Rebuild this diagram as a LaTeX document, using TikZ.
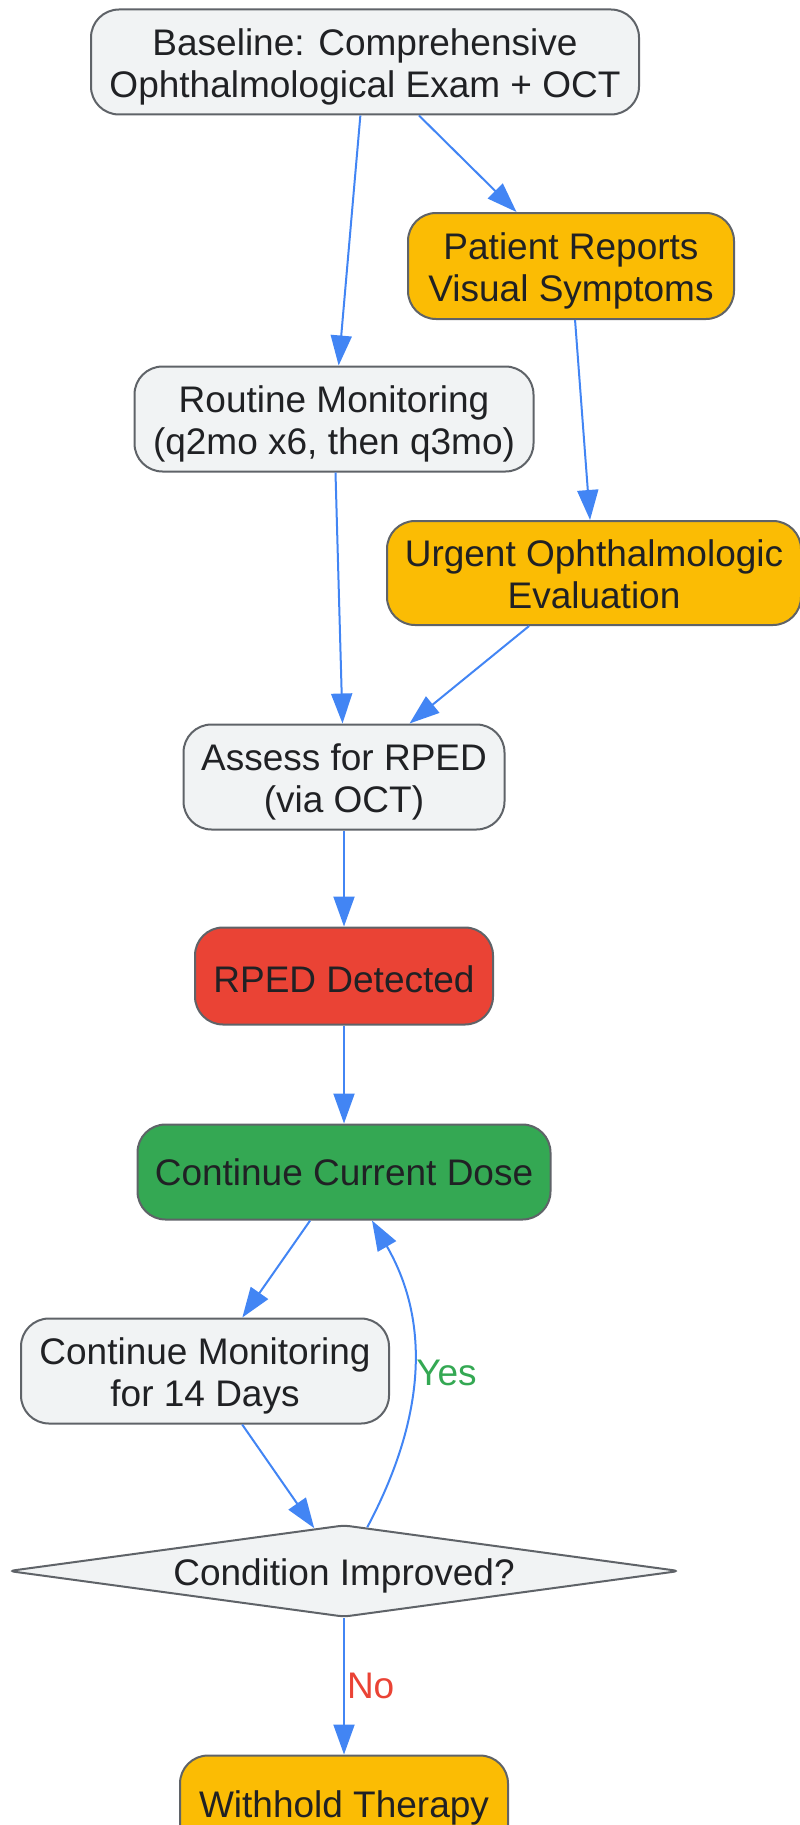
\documentclass[tikz,border=0pt]{standalone}
\usepackage{fontspec}
\setmainfont{Liberation Sans}
\usetikzlibrary{arrows.meta,shapes.geometric}

\definecolor{boxgray}{HTML}{F1F3F4}
\definecolor{boxline}{HTML}{5F6368}
\definecolor{warnyellow}{HTML}{FBBC04}
\definecolor{alertred}{HTML}{EA4335}
\definecolor{okgreen}{HTML}{34A853}
\definecolor{flowblue}{HTML}{4285F4}
\definecolor{inkdark}{HTML}{202124}

\begin{document}
\begin{tikzpicture}[x=0.5pt,y=0.5pt,>={Triangle[length=15pt,width=10.5pt]},
    every node/.style={font=\fontsize{18.5}{21}\selectfont,text=inkdark},
    box/.style={draw=boxline,line width=1pt,rounded corners=14pt,align=center,
      inner sep=0pt,minimum height=52.5pt},
    twoline/.style={text height=39pt,text depth=3.9pt},
    plain/.style={box,fill=boxgray},
    warn/.style={box,fill=warnyellow},
    alert/.style={box,fill=alertred},
    good/.style={box,fill=okgreen},
    decision/.style={diamond,shape aspect=7.3,draw=boxline,line width=1pt,
      fill=boxgray,rounded corners=3pt,inner sep=0pt,minimum width=335.5pt,minimum height=46pt},
    flow/.style={color=flowblue,line width=1pt},
    yes/.style={text=okgreen,inner sep=1pt},
    no/.style={text=alertred,inner sep=1pt}]
        \useasboundingbox (0,0) rectangle (799,-1825);

        \node[plain, twoline, minimum width=274pt] (base) at (365,-62) {Baseline: Comprehensive\\Ophthalmological Exam + OCT};
        \node[warn, twoline, minimum width=163pt, minimum height=53pt] (symptoms) at (571,-266) {Patient Reports\\Visual Symptoms};
        \node[plain, twoline, minimum width=199.5pt] (routine) at (334,-419) {Routine Monitoring\\(q2mo x6, then q3mo)};
        \node[warn, twoline, minimum width=207pt, minimum height=52pt] (urgent) at (594,-573) {Urgent Ophthalmologic\\Evaluation};
        \node[plain, twoline, minimum width=160.5pt] (assess) at (344,-777) {Assess for RPED\\(via OCT)};
        \node[alert, text height=16pt, text depth=0pt, minimum width=149pt, minimum height=48.5pt] (rped) at (344,-976) {RPED Detected};
        \node[good, minimum width=206.5pt, minimum height=47.5pt] (dose) at (344,-1172) {Continue Current Dose};
        \node[plain, twoline, minimum width=184pt] (monitor) at (205,-1371) {Continue Monitoring\\for 14 Days};
        \node[decision, text height=14.5pt, text depth=0pt] (improved) at (344,-1571) {Condition Improved?};
        \node[warn, minimum width=164pt] (withhold) at (344,-1808) {Withhold Therapy};

        \path[flow,->] (base) edge (routine);
        \path[flow,->] (base) edge (symptoms);
        \path[flow,->] (symptoms) edge (urgent);
        \path[flow,->] (routine) edge (assess);
        \path[flow,->] (urgent) edge (assess);
        \path[flow,->] (assess) edge (rped);
        \path[flow,->] (rped) edge (dose);
        \path[flow,->] (dose) edge (monitor);
        \path[flow,->] (monitor) edge (improved);

        \path[flow,->] (improved) edge[out=62,in=-60] node[right,yes] {Yes} (dose);
        \path[flow,->] (improved) edge node[right,no] {No} (withhold);
      \end{tikzpicture}
\end{document}
